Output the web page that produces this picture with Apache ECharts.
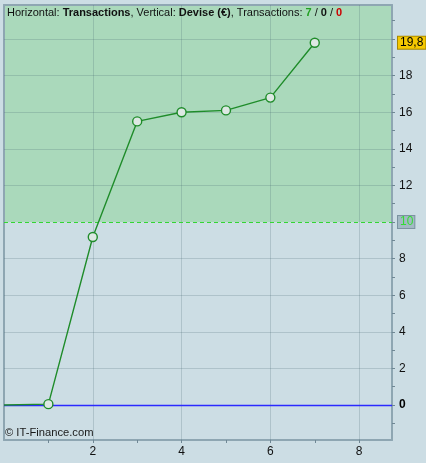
<!DOCTYPE html>
<html>
<head>
<meta charset="utf-8">
<script src="https://cdn.jsdelivr.net/npm/echarts@6/dist/echarts.min.js"></script>
<style>
html,body{margin:0;padding:0;background:#ccdde4;}
#c{width:426px;height:463px;}
</style>
</head>
<body>
<div id="c"></div>
<script>
// ---- data ----
const xValues = [0, 1, 2, 3, 4, 5, 6, 7];
const yValues = [0, 0.05, 9.18, 15.5, 16.0, 16.1, 16.8, 19.8];
const xTickValues = [1, 2, 3, 4, 5, 6, 7, 8];
const xLabelValues = [2, 4, 6, 8];
const yTickValues = [-1, 0, 1, 2, 3, 4, 5, 6, 7, 8, 9, 10, 11, 12, 13, 14, 15, 16, 17, 18, 19, 20, 21];
const yLabelValues = [0, 2, 4, 6, 8, 12, 14, 16, 18];
const yGridValues = [2, 4, 6, 8, 12, 14, 16, 18, 20];
const xGridValues = [2, 4, 6, 8];
const xMin = 0, xMax = 8.74;
const yMin = -1.91, yMax = 21.86;
const zeroLevel = 0;
const threshold = 10;
const lastValue = 19.8;
const lastLabel = '19,8';

const FONT = '"Liberation Sans", Arial, sans-serif';
const borderColor = '#8ea6b2';
const lineGreen = '#1f8c2a';

const chart = echarts.init(document.getElementById('c'));

const lineData = xValues.map((x, i) => i === 0
  ? { value: [x, yValues[i]], symbol: 'none' }
  : { value: [x, yValues[i]] });

const gridLines = yGridValues.map(v => ({ yAxis: v }))
  .concat(xGridValues.map(v => ({ xAxis: v })));

function borderAxis(pos) {
  return {
    type: 'value', position: pos, z: 3,
    axisTick: { show: false }, axisLabel: { show: false }, splitLine: { show: false },
    axisLine: { show: true, onZero: false, lineStyle: { color: borderColor, width: 2 } }
  };
}

const topAxis = Object.assign(borderAxis('top'), { min: xMin, max: xMax });
const leftAxis = Object.assign(borderAxis('left'), { min: yMin, max: yMax });

chart.setOption({
  animation: false,
  backgroundColor: '#ccdde4',
  title: {
    left: 7, top: 7, padding: 0,
    text: '{n|Horizontal: }{b|Transactions}{n|, Vertical: }{b|Devise (€)}{n|, Transactions: }{g|7}{n| / }{b|0}{n| / }{r|0}',
    textStyle: {
      fontFamily: FONT, fontSize: 11, fontWeight: 'normal',
      rich: {
        n: { fontFamily: FONT, fontSize: 11, color: '#111', fontWeight: 'normal' },
        b: { fontFamily: FONT, fontSize: 11, color: '#111', fontWeight: 'bold' },
        g: { fontFamily: FONT, fontSize: 11, color: '#22a022', fontWeight: 'bold' },
        r: { fontFamily: FONT, fontSize: 11, color: '#cc0000', fontWeight: 'bold' }
      }
    }
  },
  graphic: [{
    type: 'text', left: 5, top: 427, z: 20,
    style: { text: '© IT-Finance.com', font: '11.2px ' + FONT, fill: '#1a1a1a' }
  }],
  grid: { left: 4, right: 34, top: 5, bottom: 23, show: true, backgroundColor: '#ccdde4', borderWidth: 0 },
  xAxis: [{
    type: 'value', min: xMin, max: xMax, position: 'bottom', z: 3,
    axisLine: { show: true, onZero: false, lineStyle: { color: borderColor, width: 2 } },
    axisTick: { show: true, length: 3, customValues: xTickValues, lineStyle: { color: '#6f8794' } },
    axisLabel: { customValues: xLabelValues, margin: 6, fontFamily: FONT, fontSize: 12, color: '#111' },
    splitLine: { show: false }
  }, topAxis],
  yAxis: [{
    type: 'value', min: yMin, max: yMax, position: 'right', z: 3,
    axisLine: { show: true, onZero: false, lineStyle: { color: borderColor, width: 2 } },
    axisTick: { show: true, length: 3, customValues: yTickValues, lineStyle: { color: '#6f8794' } },
    axisLabel: {
      customValues: yLabelValues, margin: 7, fontFamily: FONT, fontSize: 12, color: '#111',
      formatter: v => v === 0 ? '{z|0}' : String(v),
      rich: { z: { fontFamily: FONT, fontSize: 12, fontWeight: 'bold', color: '#000' } }
    },
    splitLine: { show: false }
  }, leftAxis],
  series: [{
    type: 'line', data: [], z: 1, silent: true,
    markArea: {
      silent: true,
      itemStyle: { color: '#aad9bb' },
      data: [[{ yAxis: threshold }, { yAxis: yMax }]]
    },
    markLine: {
      silent: true, symbol: 'none', animation: false,
      label: { show: false },
      lineStyle: { color: 'rgba(70,100,110,0.22)', width: 1, type: 'solid' },
      data: gridLines
    }
  }, {
    name: 'zero', type: 'line', data: [], z: 4, silent: true,
    markLine: {
      silent: true, symbol: 'none', animation: false,
      label: { show: false },
      lineStyle: { color: '#2a2aff', width: 1.3, type: 'solid', opacity: 1 },
      data: [{ yAxis: zeroLevel }]
    }
  }, {
    type: 'line', data: [], z: 4, silent: true,
    markLine: {
      silent: true, symbol: 'none', animation: false,
      data: [
        {
          yAxis: threshold,
          lineStyle: { color: '#33d633', width: 1, type: [4, 3] },
          label: {
            show: true, position: 'end', distance: 6, formatter: '10',
            fontFamily: FONT, fontSize: 12, color: '#33dd33',
            backgroundColor: '#a3b9c4', borderColor: '#7b93a0', borderWidth: 1, padding: [0, 1, 0, 2]
          }
        },
        {
          yAxis: lastValue,
          lineStyle: { color: 'rgba(0,0,0,0)', width: 1 },
          label: {
            show: true, position: 'end', distance: 6, formatter: lastLabel,
            fontFamily: FONT, fontSize: 12, color: '#000',
            backgroundColor: '#f5c800', borderColor: '#a68800', borderWidth: 1, padding: [0, 2, 0, 2]
          }
        }
      ]
    }
  }, {
    type: 'line', z: 5, data: lineData,
    symbol: 'circle', symbolSize: 9, showAllSymbol: true,
    lineStyle: { color: lineGreen, width: 1.4 },
    itemStyle: { color: '#dde8e3', borderColor: lineGreen, borderWidth: 1.4 }
  }]
});
</script>
</body>
</html>
